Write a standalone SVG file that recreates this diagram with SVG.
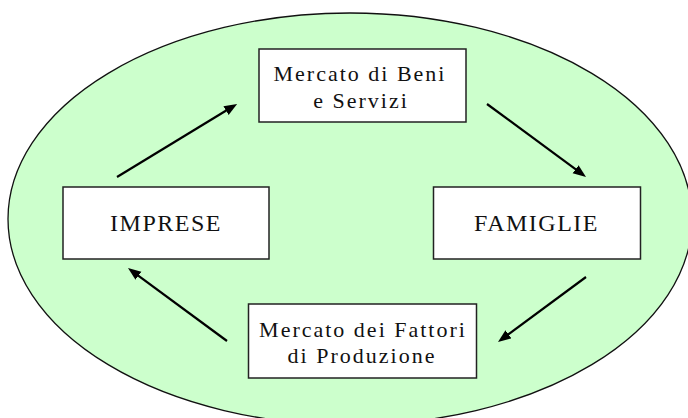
<svg xmlns="http://www.w3.org/2000/svg" width="688" height="418" viewBox="0 0 688 418">
  <style>
    .box { fill: #ffffff; stroke: #222222; stroke-width: 1.5; }
    .lbl { font-family: "Liberation Serif", "Times New Roman", serif; font-size: 22px; letter-spacing: 2px; fill: #111111; text-anchor: middle; }
    .big { font-size: 24px; letter-spacing: 1.5px; }
    .arrow { stroke: #000000; stroke-width: 2.2; fill: none; marker-end: url(#head); }
  </style>
  <defs>
    <marker id="head" markerUnits="userSpaceOnUse" markerWidth="14" markerHeight="12" refX="7" refY="5" orient="auto">
      <path d="M0,0 L13,5 L0,10 Z" fill="#000000"/>
    </marker>
  </defs>
  <rect width="688" height="418" fill="#ffffff"/>
  <ellipse id="economy" cx="350" cy="219" rx="342" ry="206" fill="#ccffcc" stroke="#111111" stroke-width="1.3"/>
  <g id="mercato-beni">
    <rect class="box" x="259" y="49" width="207" height="73"/>
    <text class="lbl" x="360" y="81">Mercato di Beni</text>
    <text class="lbl" x="361" y="108">e Servizi</text>
  </g>
  <g id="imprese">
    <rect class="box" x="63" y="187" width="206" height="72"/>
    <text class="lbl big" x="166" y="231">IMPRESE</text>
  </g>
  <g id="famiglie">
    <rect class="box" x="433.5" y="187" width="207" height="72"/>
    <text class="lbl big" x="536.5" y="231">FAMIGLIE</text>
  </g>
  <g id="mercato-fattori">
    <rect class="box" x="248.5" y="304" width="228" height="74"/>
    <text class="lbl" x="363" y="337">Mercato dei Fattori</text>
    <text class="lbl" x="362" y="363">di Produzione</text>
  </g>
  <g id="connectors">
    <line class="arrow" x1="117" y1="177" x2="232" y2="107"/>
    <line class="arrow" x1="487" y1="104" x2="581.2" y2="173.4"/>
    <line class="arrow" x1="586" y1="277" x2="502.8" y2="338.4"/>
    <line class="arrow" x1="227" y1="341" x2="132.8" y2="271.6"/>
  </g>
</svg>
